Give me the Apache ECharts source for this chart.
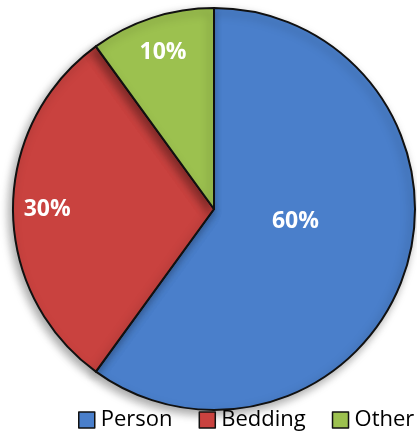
<!DOCTYPE html>
<html>
<head>
<meta charset="utf-8">
<script src="https://cdn.jsdelivr.net/npm/echarts@6/dist/echarts.min.js"></script>
<style>
  html, body { margin: 0; padding: 0; background: #fff; }
  #chart { width: 417px; height: 432px; }
</style>
</head>
<body>
<div id="chart"></div>
<script>
// Share of items by source
const categories = ['Person', 'Bedding', 'Other'];
const shares = [60, 30, 10];
const colors = ['#4a7fcb', '#c9423f', '#9cc14f'];

// Label placement: angle (degrees clockwise from 12 o'clock) and fraction of radius
const labelAngle = [99, 270, 342];
const labelRadius = [0.41, 0.83, 0.82];

const chart = echarts.init(document.getElementById('chart'));
const cx = 214, cy = 209, R = 201;

chart.setOption({
  animation: false,
  legend: {
    data: categories,
    top: 409,
    left: 78,
    width: 345,
    padding: 0,
    itemGap: 26,
    itemWidth: 16,
    itemHeight: 16,
    icon: 'rect',
    textStyle: { fontFamily: 'Open Sans', fontSize: 22, color: '#000', padding: [0, 0, 0, 1] },
    itemStyle: { borderColor: '#111', borderWidth: 1.5 }
  },
  series: [{
    type: 'pie',
    center: [cx, cy],
    radius: [0, R],
    startAngle: 90,
    clockwise: true,
    data: categories.map((name, i) => ({
      name: name,
      value: shares[i],
      itemStyle: { color: colors[i] }
    })),
    itemStyle: {
      borderColor: '#111',
      borderWidth: 2,
      shadowBlur: 10,
      shadowColor: 'rgba(0,0,0,0.35)',
      shadowOffsetX: -3,
      shadowOffsetY: 4
    },
    label: {
      show: true,
      position: 'inside',
      formatter: p => p.value + '%',
      color: '#fff',
      fontFamily: 'Open Sans',
      fontWeight: 'bold',
      fontSize: 23
    },
    labelLine: { show: false },
    labelLayout: function (params) {
      const i = params.dataIndex;
      const a = labelAngle[i] * Math.PI / 180;
      return {
        x: cx + labelRadius[i] * R * Math.sin(a),
        y: cy - labelRadius[i] * R * Math.cos(a),
        align: 'center',
        verticalAlign: 'middle'
      };
    },
    emphasis: { disabled: true }
  }]
});
</script>
</body>
</html>
